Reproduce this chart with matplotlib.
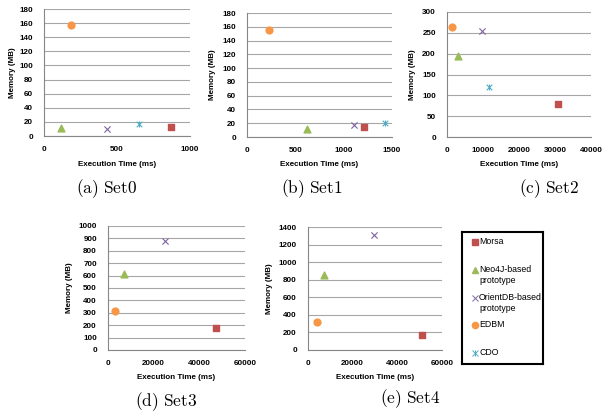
import matplotlib
matplotlib.use("Agg")
import matplotlib.pyplot as plt

plt.rcParams["font.family"] = ["Liberation Sans", "DejaVu Sans"]
plt.rcParams["mathtext.fontset"] = "cm"

# --- Données ---
systems = ["Morsa", "Neo4J-based\nprototype", "OrientDB-based\nprototype", "EDBM", "CDO"]
set_names = ["Set0", "Set1", "Set2", "Set3", "Set4"]
letters = ["a", "b", "c", "d", "e"]

# temps (ms) / mémoire (MB) par système, None = absent
morsa_time = [868, 1208, 30833, 47270, 51190]
morsa_mem = [13, 14, 80, 180, 175]
neo4j_time = [114, 618, 3150, 6880, 7160]
neo4j_mem = [11, 12, 195, 615, 855]
orient_time = [429, 1109, 9720, 24880, 29550]
orient_mem = [10, 17, 255, 880, 1305]
edbm_time = [185, 227, 1300, 2930, 3880]
edbm_mem = [158, 156, 265, 315, 315]
cdo_time = [651, 1424, 11670, None, None]
cdo_mem = [17, 21, 120, None, None]

x_max = [1000, 1500, 40000, 60000, 60000]
x_step = [500, 500, 10000, 20000, 20000]
y_max = [180, 180, 300, 1000, 1400]
y_step = [20, 20, 50, 100, 200]

# --- Couleurs (style Excel) ---
C_MORSA = "#C0504D"
C_NEO = "#9BBB59"
C_ORIENT = "#8064A2"
C_EDBM = "#F79646"
C_CDO = "#4BACC6"

W, H = 603, 412
# (gauche, haut, droite, bas, x du ylabel, y du xlabel, centre x/y de la légende) en pixels
layout = [
    (44, 9, 190, 136, 16, 161, 107, 189),
    (247, 13, 392, 137, 216, 161, 312, 189),
    (447, 12, 591, 137, 416, 161, 549, 189),
    (108, 226, 245, 350, 73, 374, 166, 402),
    (308, 227, 442, 350, 273, 374, 410, 399),
]

fig = plt.figure(figsize=(W / 100, H / 100), dpi=100)

for i in range(5):
    l, t, r, b, ylx, xly, cx, cy = layout[i]
    ax = fig.add_axes([l / W, 1 - b / H, (r - l) / W, (b - t) / H])

    ax.scatter(morsa_time[i], morsa_mem[i], marker="s", s=22, color=C_MORSA, zorder=3)
    ax.scatter(neo4j_time[i], neo4j_mem[i], marker="^", s=24, color=C_NEO, zorder=3)
    ax.scatter(orient_time[i], orient_mem[i], marker="x", s=20, color=C_ORIENT, linewidths=0.8, zorder=3)
    ax.scatter(edbm_time[i], edbm_mem[i], marker="o", s=24, color=C_EDBM, zorder=3)
    if cdo_time[i] is not None:
        ax.scatter(cdo_time[i], cdo_mem[i], marker="x", s=16, color=C_CDO, linewidths=0.8, zorder=3)
        ax.scatter(cdo_time[i], cdo_mem[i], marker="|", s=20, color=C_CDO, linewidths=0.8, zorder=3)

    ax.set_xlim(0, x_max[i])
    ax.set_ylim(0, y_max[i])
    ax.set_xticks(range(0, x_max[i] + 1, x_step[i]))
    ax.set_yticks(range(0, y_max[i] + 1, y_step[i]))
    ax.yaxis.grid(True, color="#A6A6A6", linewidth=0.8)
    ax.set_axisbelow(True)
    for s in ["top", "right"]:
        ax.spines[s].set_visible(False)
    for s in ["left", "bottom"]:
        ax.spines[s].set_color("#868686")
        ax.spines[s].set_linewidth(0.8)
    ax.tick_params(length=0, labelsize=5.8)
    ax.tick_params(axis="y", pad=8)
    ax.tick_params(axis="x", pad=7)
    for lab in ax.get_xticklabels() + ax.get_yticklabels():
        lab.set_fontweight("bold")

    ax.set_xlabel("Execution Time (ms)", fontsize=5.8, fontweight="bold")
    ax.xaxis.set_label_coords(0.5, (b - xly) / (b - t))
    ax.set_ylabel("Memory (MB)", fontsize=5.8, fontweight="bold")
    ax.yaxis.set_label_coords((ylx - l) / (r - l), 0.5)

    fig.text(cx / W, 1 - cy / H,
             r"$\mathrm{(%s)\ %s}$" % (letters[i], set_names[i]),
             fontsize=12.5, ha="center", va="center")

# --- Légende (cadre noir, entrées espacées régulièrement comme dans Excel) ---
lg = fig.add_axes([462 / W, 1 - 364 / H, 81 / W, 132 / H])
lg.set_xlim(462, 543)
lg.set_ylim(364, 232)
lg.set_xticks([])
lg.set_yticks([])
for s in lg.spines.values():
    s.set_edgecolor("black")
    s.set_linewidth(1.5)

entry_y = [242, 270, 298, 325, 353]
mk_x = 475
lg.plot(mk_x, entry_y[0], ls="", marker="s", ms=4, color=C_MORSA)
lg.plot(mk_x, entry_y[1], ls="", marker="^", ms=4.5, color=C_NEO)
lg.plot(mk_x, entry_y[2], ls="", marker="x", ms=4.5, mew=0.7, color=C_ORIENT)
lg.plot(mk_x, entry_y[3], ls="", marker="o", ms=4.5, color=C_EDBM)
lg.plot(mk_x, entry_y[4], ls="", marker="x", ms=4, mew=0.7, color=C_CDO)
lg.plot(mk_x, entry_y[4], ls="", marker="|", ms=4.5, mew=0.7, color=C_CDO)
for name, y in zip(systems, entry_y):
    lg.text(479, y - 5, name, fontsize=6.3, va="top", ha="left", linespacing=1.25)

fig.savefig("out.png", dpi=100)
